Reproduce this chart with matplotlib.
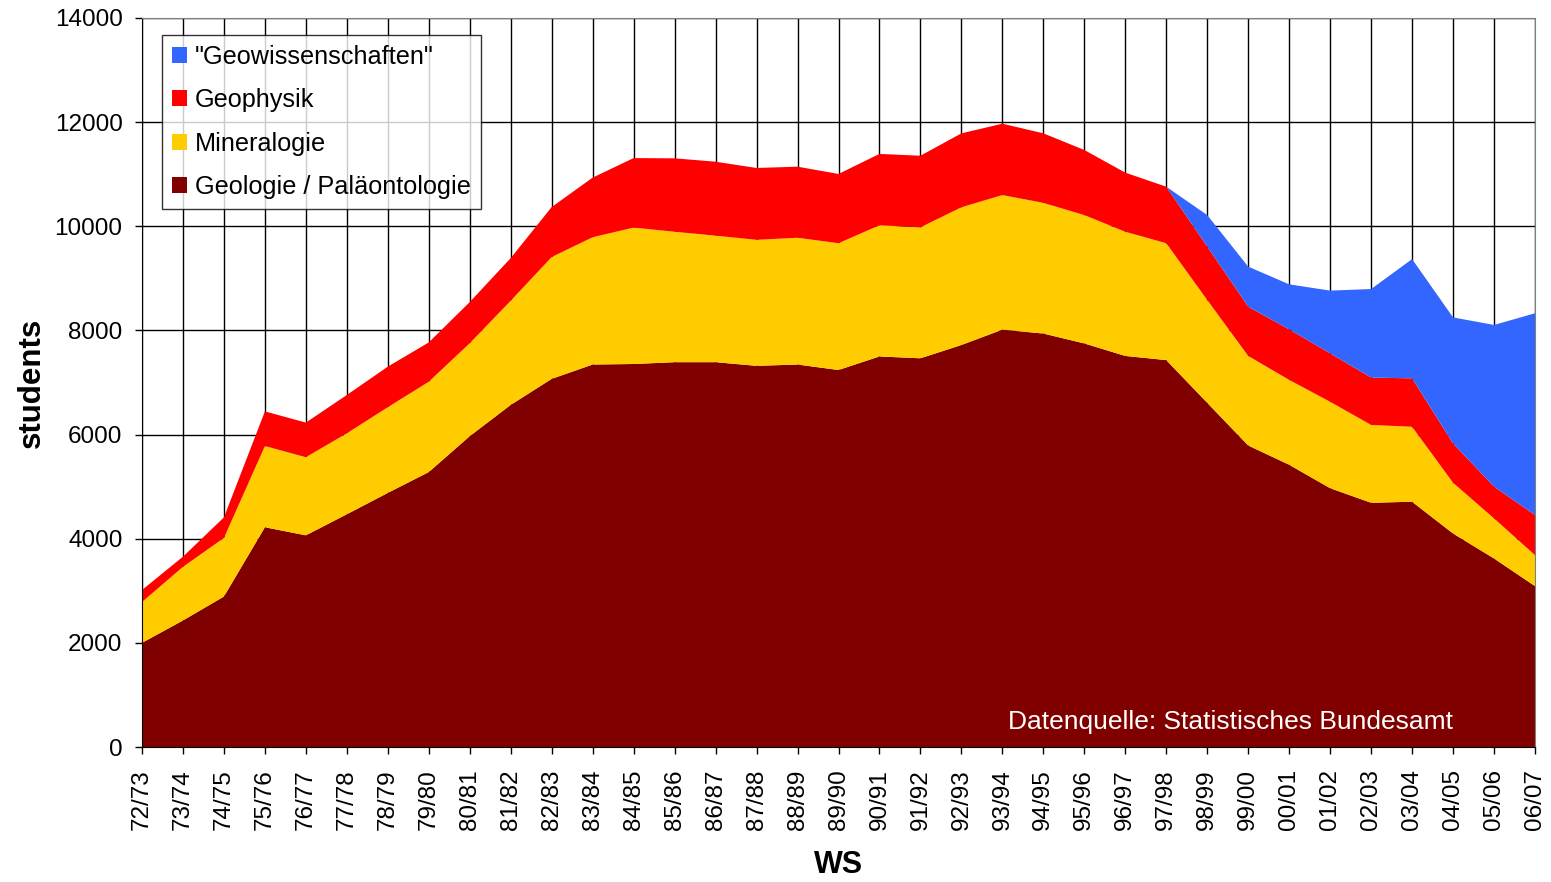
import matplotlib.pyplot as plt
import numpy as np

plt.rcParams["font.family"] = ["Liberation Sans", "DejaVu Sans"]

# Winter semesters
semesters = ["72/73", "73/74", "74/75", "75/76", "76/77", "77/78", "78/79", "79/80",
             "80/81", "81/82", "82/83", "83/84", "84/85", "85/86", "86/87", "87/88",
             "88/89", "89/90", "90/91", "91/92", "92/93", "93/94", "94/95", "95/96",
             "96/97", "97/98", "98/99", "99/00", "00/01", "01/02", "02/03", "03/04",
             "04/05", "05/06", "06/07"]

# Students per subject
geologie = [2000, 2430, 2890, 4220, 4065, 4470, 4880, 5280, 5970, 6570, 7070, 7345,
            7355, 7390, 7390, 7320, 7345, 7240, 7500, 7465, 7720, 8015, 7940, 7750,
            7510, 7430, 6610, 5790, 5420, 4970, 4690, 4710, 4100, 3620, 3090]
mineralogie = [785, 1030, 1125, 1560, 1500, 1555, 1645, 1735, 1785, 2000, 2340, 2445,
               2620, 2505, 2430, 2420, 2435, 2435, 2520, 2515, 2645, 2585, 2510, 2465,
               2385, 2245, 1975, 1720, 1630, 1660, 1495, 1440, 975, 770, 595]
geophysik = [230, 195, 395, 665, 665, 735, 780, 755, 790, 820, 960, 1145,
             1335, 1410, 1420, 1380, 1365, 1330, 1370, 1375, 1420, 1370, 1335, 1250,
             1135, 1085, 1025, 945, 970, 930, 910, 930, 755, 610, 770]
geowiss = [0, 0, 0, 0, 0, 0, 0, 0, 0, 0, 0, 0,
           0, 0, 0, 0, 0, 0, 0, 0, 0, 0, 0, 0,
           0, 0, 605, 770, 865, 1205, 1700, 2290, 2420, 3105, 3875]

labels = ["Geologie / Paläontologie", "Mineralogie", "Geophysik", '"Geowissenschaften"']
colors = ["#800000", "#FFCC00", "#FF0000", "#3366FF"]

fig = plt.figure(figsize=(15.51, 8.82), dpi=100)
ax = fig.add_axes([142 / 1551, 1 - 747 / 882, (1535 - 142) / 1551, (747 - 18) / 882])

x = np.arange(len(semesters))
ax.stackplot(x, geologie, mineralogie, geophysik, geowiss,
             colors=colors, labels=labels, linewidth=0)

ax.set_xlim(0, len(semesters) - 1)
ax.set_ylim(0, 14000)
ax.set_xticks(x)
ax.set_xticklabels(semesters, rotation=90, fontsize=17.5)
ax.set_yticks(range(0, 14001, 2000))
ax.tick_params(axis="y", labelsize=17.5, length=5, width=1, direction="out", pad=9)
ax.tick_params(axis="x", length=5, width=1, direction="out", pad=11)

ax.set_axisbelow(True)
ax.grid(True, color="black", linewidth=1)
for s in ax.spines.values():
    s.set_color("#808080")
ax.spines["left"].set_color("black")
ax.spines["bottom"].set_color("black")

ax.set_xlabel("WS", fontsize=22, fontweight="bold")
ax.xaxis.set_label_coords(0.5, -0.141)
ax.set_ylabel("students", fontsize=22.5, fontweight="bold")
ax.yaxis.set_label_coords(-0.068, 0.5)

handles, lbls = ax.get_legend_handles_labels()
leg = ax.legend(handles[::-1], lbls[::-1], loc="upper left", bbox_to_anchor=(0.0144, 0.9767),
                fontsize=18.2, frameon=True, fancybox=False, handlelength=0.6, handleheight=0.6,
                handletextpad=0.3, labelspacing=0.76, borderpad=0.4, borderaxespad=0)
leg.get_frame().set_edgecolor("black")
leg.get_frame().set_linewidth(1)

ax.text(0.941, 0.0247, "Datenquelle: Statistisches Bundesamt", transform=ax.transAxes,
        color="white", fontsize=19, ha="right", va="baseline")

fig.savefig("out.png", dpi=100)
